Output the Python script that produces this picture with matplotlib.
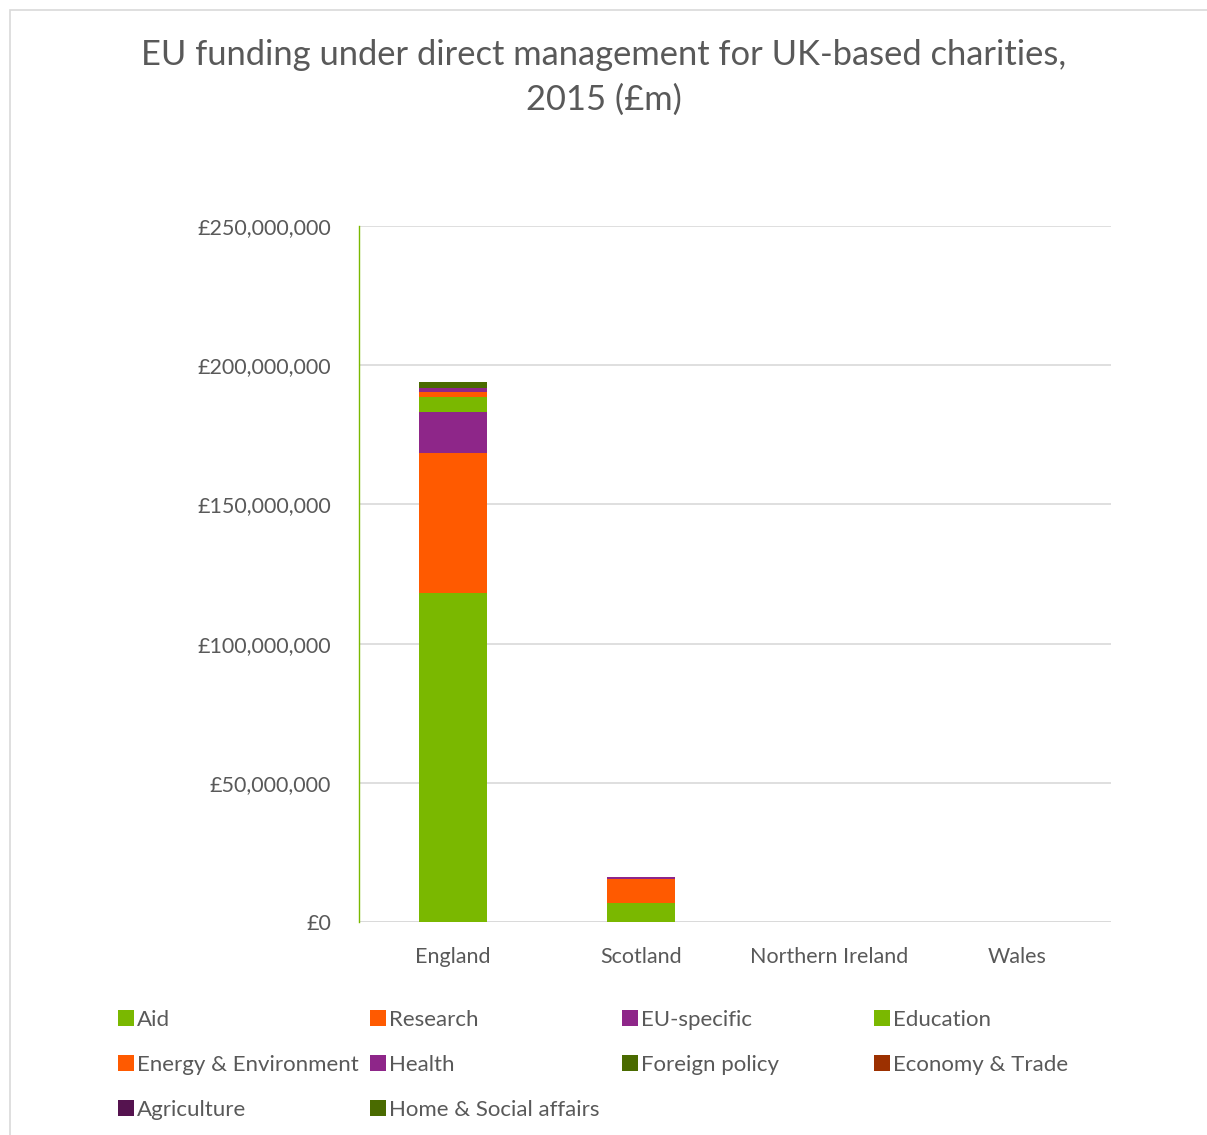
import numpy as np
import matplotlib.pyplot as plt
from matplotlib.ticker import FuncFormatter
from matplotlib.patches import Rectangle

plt.rcParams['font.family'] = ['Lato', 'DejaVu Sans']

regions = ['England', 'Scotland', 'Northern Ireland', 'Wales']
themes = ['Aid', 'Research', 'EU-specific', 'Education', 'Energy & Environment',
          'Health', 'Foreign policy', 'Economy & Trade', 'Agriculture',
          'Home & Social affairs']
colors = ['#7ab800', '#ff5a00', '#8e2689', '#7ab800', '#ff5a00', '#8e2689',
          '#4a6b00', '#9c3000', '#55134f', '#4a6b00']

# values in £
aid = [118200000, 6800000, 0, 0]
research = [50300000, 8600000, 0, 0]
eu_specific = [14700000, 400000, 0, 0]
education = [5400000, 0, 0, 0]
energy = [1800000, 0, 0, 0]
health = [1500000, 200000, 0, 0]
foreign_policy = [2100000, 300000, 0, 0]
economy = [0, 0, 0, 0]
agriculture = [0, 0, 0, 0]
home_social = [0, 0, 0, 0]
series = [aid, research, eu_specific, education, energy, health,
          foreign_policy, economy, agriculture, home_social]

fig = plt.figure(figsize=(12.07, 11.35), dpi=100)
ax = fig.add_axes([359 / 1207, 1 - 922 / 1135, 752 / 1207, 696 / 1135])

x = np.arange(len(regions))
bottom = np.zeros(len(regions))
bars = []
for name, vals, c in zip(themes, series, colors):
    vals = np.array(vals, dtype=float)
    b = ax.bar(x, vals, 0.36, bottom=bottom, color=c, label=name, zorder=3)
    bars.append(b)
    bottom += vals

ax.set_xlim(-0.5, 3.5)
ax.set_ylim(0, 250000000)
ax.set_yticks(np.arange(0, 250000001, 50000000))
ax.yaxis.set_major_formatter(FuncFormatter(lambda v, p: '£0' if v == 0 else '£{:,.0f}'.format(v)))
ax.set_xticks(x)
ax.set_xticklabels(regions)
ax.grid(axis='y', color='#d9d9d9', linewidth=1.2, zorder=0)
for s in ['top', 'right', 'bottom']:
    ax.spines[s].set_visible(False)
ax.spines['left'].set_color('#7ab800')
ax.spines['left'].set_linewidth(1)
ax.tick_params(axis='both', length=0, labelsize=15.5, labelcolor='#595959')
ax.tick_params(axis='y', pad=20)
ax.tick_params(axis='x', pad=18)
ax.axhline(0, color='#d9d9d9', linewidth=1.2, zorder=1)

fig.text(604 / 1207, 1 - 55 / 1135, 'EU funding under direct management for UK-based charities,',
         ha='center', va='center', fontsize=24.8, color='#595959')
fig.text(604 / 1207, 1 - 100 / 1135, '2015 (£m)',
         ha='center', va='center', fontsize=24.8, color='#595959')

# legend: row-major, four fixed columns
col_x = [118, 370, 622, 874]
for col in range(4):
    idx = list(range(col, len(themes), 4))
    leg = fig.legend([bars[i] for i in idx], [themes[i] for i in idx], loc='upper left',
                     bbox_to_anchor=(col_x[col] / 1207, 1 - 1010 / 1135), ncol=1,
                     frameon=False, fontsize=16, labelcolor='#595959',
                     handlelength=0.7, handleheight=0.7, handletextpad=0.15,
                     labelspacing=1.12, borderpad=0, borderaxespad=0)

fig.patches.append(Rectangle((10 / 1207, -0.01), 1.2, 1 - 10 / 1135 + 0.01, transform=fig.transFigure,
                             fill=False, edgecolor='#d9d9d9', linewidth=1.2))

fig.savefig('out.png', dpi=100)
